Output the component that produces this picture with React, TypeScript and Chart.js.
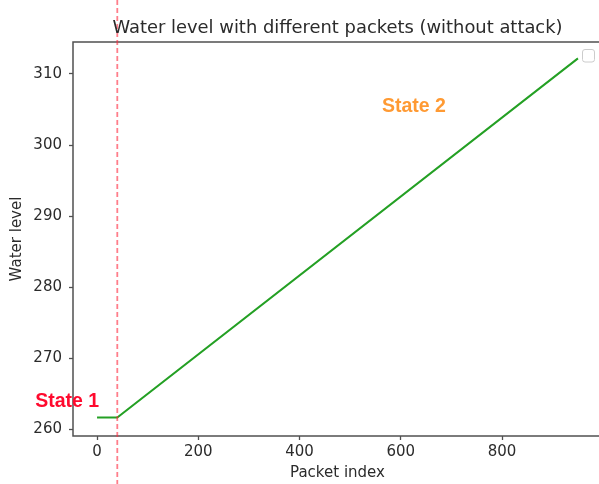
import React, { useEffect, useRef } from 'react';
import { Chart, registerables } from 'chart.js';

Chart.register(...registerables);

// ---- data ----
const packetIndex = [0, 40, 950];
const waterLevel = [261.65, 261.65, 312.2];
const xTickValues = [0, 200, 400, 600, 800];
const yTickValues = [260, 270, 280, 290, 300, 310];
const attackBoundary = 40;
const stateLabels = ['State 1', 'State 2'];
const stateX = [-59, 626];
const stateY = [263.9, 305.4];
const stateColors = ['#ff0a2e', '#ff9a33'];
const titleText = 'Water level with different packets (without attack)';

const FONT = '"DejaVu Sans", sans-serif';
const TXT = '#2b2b2b';

const overlayPlugin = {
  id: 'overlay',
  afterDatasetsDraw(chart: any) {
    const { ctx, chartArea, scales } = chart;
    const xs = scales.x;
    const ys = scales.y;
    ctx.save();
    // frame
    ctx.strokeStyle = '#505050';
    ctx.lineWidth = 1.5;
    ctx.strokeRect(chartArea.left, chartArea.top, chartArea.right - chartArea.left, chartArea.bottom - chartArea.top);
    // vertical dashed line
    const px = xs.getPixelForValue(attackBoundary);
    ctx.strokeStyle = 'rgba(255,40,60,0.6)';
    ctx.lineWidth = 1.8;
    ctx.setLineDash([5, 3]);
    ctx.beginPath();
    ctx.moveTo(px, 0);
    ctx.lineTo(px, chart.height);
    ctx.stroke();
    ctx.setLineDash([]);
    // state labels
    ctx.font = 'bold 19.5px "Liberation Sans", Arial, sans-serif';
    ctx.textAlign = 'center';
    ctx.textBaseline = 'middle';
    stateLabels.forEach((t, i) => {
      ctx.fillStyle = stateColors[i];
      ctx.fillText(t, xs.getPixelForValue(stateX[i]), ys.getPixelForValue(stateY[i]));
    });
    // title
    ctx.font = '17.9px ' + FONT;
    ctx.fillStyle = TXT;
    ctx.textBaseline = 'alphabetic';
    ctx.fillText(titleText, (chartArea.left + chartArea.right) / 2, 32.5);
    // empty legend box
    ctx.strokeStyle = '#cccccc';
    ctx.lineWidth = 1;
    const bx = chartArea.right - 19.5;
    const by = chartArea.top + 7.5;
    ctx.beginPath();
    if (ctx.roundRect) ctx.roundRect(bx, by, 12, 12.5, 2.5);
    else ctx.rect(bx, by, 12, 12.5);
    ctx.stroke();
    ctx.restore();
  },
};

export default function App() {
  const ref = useRef<HTMLCanvasElement>(null);
  useEffect(() => {
    if (!ref.current) return;
    const chart = new Chart(ref.current, {
      type: 'line',
      data: {
        datasets: [
          {
            data: packetIndex.map((x, i) => ({ x, y: waterLevel[i] })),
            borderColor: '#24a024',
            borderWidth: 2,
            pointRadius: 0,
            fill: false,
            tension: 0,
          },
        ],
      },
      options: {
        animation: false,
        responsive: false,
        devicePixelRatio: 1,
        layout: { padding: { top: 42, right: 2, left: 0, bottom: 0 } },
        plugins: { legend: { display: false }, title: { display: false }, tooltip: { enabled: false } },
        scales: {
          x: {
            type: 'linear',
            min: -47.5,
            max: 997.5,
            afterBuildTicks: (s: any) => {
              s.ticks = xTickValues.map((v) => ({ value: v }));
            },
            afterFit: (s: any) => {
              s.height = 48;
            },
            border: { display: false },
            grid: { drawOnChartArea: false, drawTicks: true, tickLength: 4, tickColor: '#505050', tickWidth: 1.3 },
            ticks: { padding: 3.5, color: TXT, font: { family: FONT, size: 15 }, maxRotation: 0 },
            title: {
              display: true,
              text: 'Packet index',
              color: TXT,
              font: { family: FONT, size: 15 },
              padding: { top: 0, bottom: 2.3 },
            },
          },
          y: {
            type: 'linear',
            min: 259.06,
            max: 314.5,
            afterBuildTicks: (s: any) => {
              s.ticks = yTickValues.map((v) => ({ value: v }));
            },
            afterFit: (s: any) => {
              s.width = 73;
            },
            border: { display: false },
            grid: { drawOnChartArea: false, drawTicks: true, tickLength: 4, tickColor: '#505050', tickWidth: 1.3 },
            ticks: { padding: 7, color: TXT, font: { family: FONT, size: 15 } },
            title: {
              display: true,
              text: 'Water level',
              color: TXT,
              font: { family: FONT, size: 15 },
              padding: { top: 8, bottom: 0 },
            },
          },
        },
      },
      plugins: [overlayPlugin],
    } as any);
    return () => chart.destroy();
  }, []);
  return (
    <div style={{ position: 'absolute', left: 0, top: 0, width: 599, height: 484, overflow: 'hidden', background: '#fff' }}>
      <canvas ref={ref} width={604} height={484} style={{ width: 604, height: 484, display: 'block' }} />
    </div>
  );
}
